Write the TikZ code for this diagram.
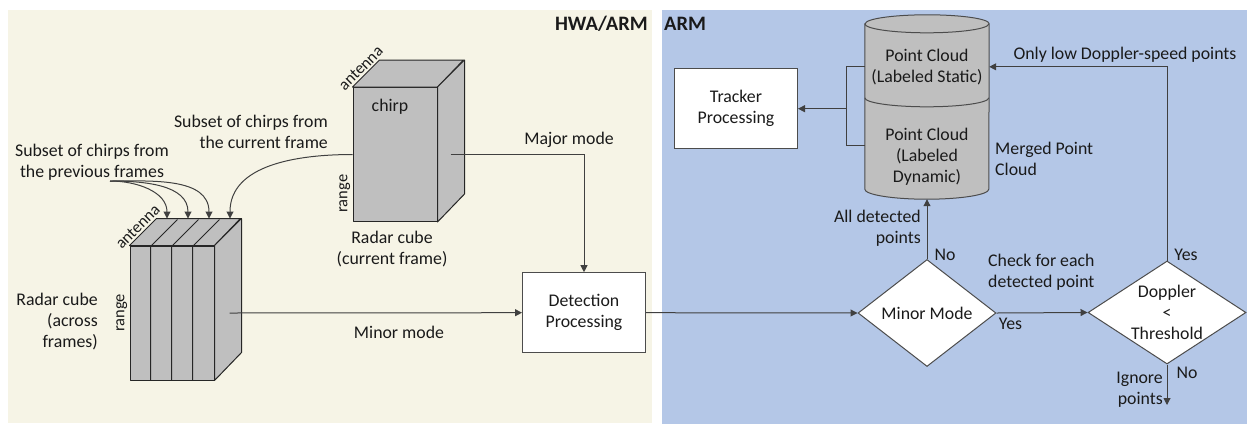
\documentclass[tikz,border=0pt]{standalone}
\usepackage{fontspec}
\setmainfont{Carlito}
\usetikzlibrary{shapes.geometric, arrows.meta, calc, positioning}

\definecolor{hwaBg}{RGB}{246,244,230}
\definecolor{armBg}{RGB}{180,199,231}
\definecolor{cubeGray}{RGB}{191,191,191}
\definecolor{lineGray}{RGB}{64,64,64}
\definecolor{inkBlack}{RGB}{26,26,26}

\begin{document}
\begin{tikzpicture}[
			x=1pt, y=1pt,
			font=\fontsize{17.8}{21}\selectfont, text=inkBlack,
			% Titles of the two processing domains
			domainTitle/.style={font=\fontsize{20.5}{24}\selectfont\bfseries, inner sep=0pt},
			% Faces of the radar cubes and the point cloud store
			cubeface/.style={fill=cubeGray, draw=black!85, line width=1pt, line join=round},
			sliceline/.style={draw=black!85, line width=1pt, line join=round},
			drum/.style={fill=cubeGray, draw=black!70, line width=1pt},
			% Process boxes and decisions
			proc/.style={draw=black!70, fill=white, line width=1pt, minimum width=123pt, minimum height=80pt, align=center, inner sep=0pt},
			decision/.style={diamond, draw=black!70, fill=white, line width=1pt, inner sep=0pt, align=center},
			% Plain text and connectors
			txt/.style={align=center, inner sep=0pt},
			axisLabel/.style={font=\fontsize{16.5}{20}\selectfont, inner sep=2pt},
			wire/.style={draw=lineGray, line width=1pt},
			flow/.style={wire, -{Triangle[length=7pt,width=7pt]}}
			]
			
			% ==============================================================================
			% DOMAIN PANELS
			% ==============================================================================
			\fill[hwaBg] (8,-10) rectangle (652,-423);
			\fill[armBg] (662,-10) rectangle (1247,-424);
			\node[domainTitle, anchor=east] (hwaTitle) at (648,-24) {HWA/ARM};
			\node[domainTitle, anchor=west] (armTitle) at (664,-24) {ARM};
			
			% ==============================================================================
			% RADAR CUBE ACROSS FRAMES
			% ==============================================================================
			\node[cubeface, minimum width=84pt, minimum height=134pt, inner sep=0pt] (acc) at (172,-313) {};
			\draw[cubeface] (acc.north west) -- ++(27,27) -- ++(84,0) -- (acc.north east) -- cycle;
			\draw[cubeface] (acc.north east) -- ++(27,27) -- ++(0,-134) -- (acc.south east) -- cycle;
			\foreach \s in {1,2,3} {
				\draw[sliceline] ($(acc.south west)+(21*\s,0)$) -- ++(0,134) -- ++(27,27);
			}
			\path (acc.north west) -- ++(27,27) node[midway, sloped, above, axisLabel] (accAnt) {antenna};
			\path (acc.south west) -- (acc.north west) node[midway, sloped, above, axisLabel] (accRng) {range};
			\node[txt, anchor=east, align=right] (accName) at (98,-322) {Radar cube\\(across\\frames)};
			
			% ==============================================================================
			% RADAR CUBE OF THE CURRENT FRAME
			% ==============================================================================
			\node[cubeface, minimum width=84pt, minimum height=134pt, inner sep=0pt] (cur) at (395,-154.5) {};
			\draw[cubeface] (cur.north west) -- ++(27,27) -- ++(84,0) -- (cur.north east) -- cycle;
			\draw[cubeface] (cur.north east) -- ++(27,27) -- ++(0,-134) -- (cur.south east) -- cycle;
			\path (cur.north west) -- ++(27,27) node[midway, sloped, above, axisLabel] (curAnt) {antenna};
			\path (cur.south west) -- (cur.north west) node[pos=0.21, sloped, above, axisLabel] (curRng) {range};
			\node[txt] (curChirp) at (390,-107) {chirp};
			\node[txt] (curName) at (392,-249.5) {Radar cube\\(current frame)};
			
			% chirp subsets feeding the stacked cube
			\node[txt] (prevSub) at (92,-162.5) {Subset of chirps from\\the previous frames};
			\node[txt, anchor=east, align=right] (curSub) at (328,-131.5) {Subset of chirps from\\the current frame};
			\coordinate (prev) at (110,-181);
			\foreach \s in {0,1,2} {
				\draw[flow] (prev) to[out=0, in=90] ($(acc.north west)+(37.5+21*\s,27)$);
			}
			\draw[flow] (cur.west) to[out=180, in=90] ($(acc.north west)+(100.5,27)$);
			
			% ==============================================================================
			% DETECTION
			% ==============================================================================
			\node[proc] (det) at (584,-312.7) {Detection\\Processing};
			\coordinate (curOut) at ($(cur.east)+(13,0)$);
			\coordinate (accOut) at ($(acc.east)+(15,0)$);
			\draw[flow] (curOut) -| (det.north);
			\node[txt] (major) at (569,-140) {Major mode};
			\draw[flow] (accOut) -- (det.west);
			\node[txt] (minor) at (399,-332) {Minor mode};
			
			% ==============================================================================
			% ARM: MERGED POINT CLOUD AND TRACKER
			% ==============================================================================
			\node[inner sep=0pt, minimum width=124pt, minimum height=165pt] (cloud) at (927,-106.5) {};
			\draw[drum] (cloud.north west) -- (cloud.south west)
				arc[start angle=180, end angle=360, x radius=62, y radius=10]
				-- (cloud.north east)
				arc[start angle=0, end angle=180, x radius=62, y radius=9] -- cycle;
			\draw[drum, fill=none] (cloud.north west) arc[start angle=180, end angle=360, x radius=62, y radius=9];
			\draw[drum, fill=none] ($(cloud.north west)+(0,-74)$) arc[start angle=180, end angle=360, x radius=62, y radius=9];
			\node[txt] (static) at (927,-67.5) {Point Cloud\\(Labeled Static)};
			\node[txt] (dynamic) at (927,-157) {Point Cloud\\(Labeled\\Dynamic)};
			\node[txt, anchor=west, align=left] (merged) at (995,-158.5) {Merged Point\\Cloud};
			\coordinate (stIn) at ($(cloud.north west)+(0,-43)$);
			\coordinate (stOut) at ($(cloud.north east)+(0,-43)$);
			\coordinate (dyIn) at ($(cloud.north west)+(0,-122)$);
			\coordinate (cloudBot) at ($(cloud.south)+(0,-10)$);
			
			\node[proc] (trk) at (736,-108.7) {Tracker\\Processing};
			\coordinate (merge) at ($(trk.east)+(48.5,0)$);
			\draw[wire] (stIn) -- (stIn -| merge) |- (dyIn);
			\draw[flow] (merge) -- (trk.east);
			
			% ==============================================================================
			% ARM: MODE CHECK AND DOPPLER GATE
			% ==============================================================================
			\node[decision, minimum width=138pt, minimum height=107pt] (mm) at (927,-313) {Minor Mode};
			\node[decision, minimum width=158pt, minimum height=103pt] (dop) at (1167,-312.5) {};
			\node[txt] (dopTxt) at (dop) {Doppler\\<\\Threshold};
			
			\draw[flow] (det.east) -- (mm.west);
			\draw[flow] (mm.east) -- (dop.west);
			\draw[flow] (mm.north) -- (cloudBot);
			\draw[flow] (dop.north) |- (stOut);
			\coordinate (drop) at (1167,-405);
			\draw[flow] (dop.south) -- (drop);
			
			\node[txt, anchor=east, align=right] (allPts) at (921,-228.5) {All detected\\points};
			\node[txt] (mmNo) at ($(mm.north)+(18,4)$) {No};
			\node[txt, anchor=west, align=left] (check) at (988,-272.5) {Check for each\\detected point};
			\node[txt] (mmYes) at ($(mm.east)+(14,-11)$) {Yes};
			\node[txt] (lowDop) at (1125,-55) {Only low Doppler-speed points};
			\node[txt] (dopYes) at ($(dop.north)+(19,6)$) {Yes};
			\node[txt] (dopNo) at ($(dop.south)+(20,-8)$) {No};
			\node[txt, anchor=east, align=right] (ignore) at (1163,-389.5) {Ignore\\points};
			
			\useasboundingbox (0,0) rectangle (1247,-424);
			
		\end{tikzpicture}
\end{document}
